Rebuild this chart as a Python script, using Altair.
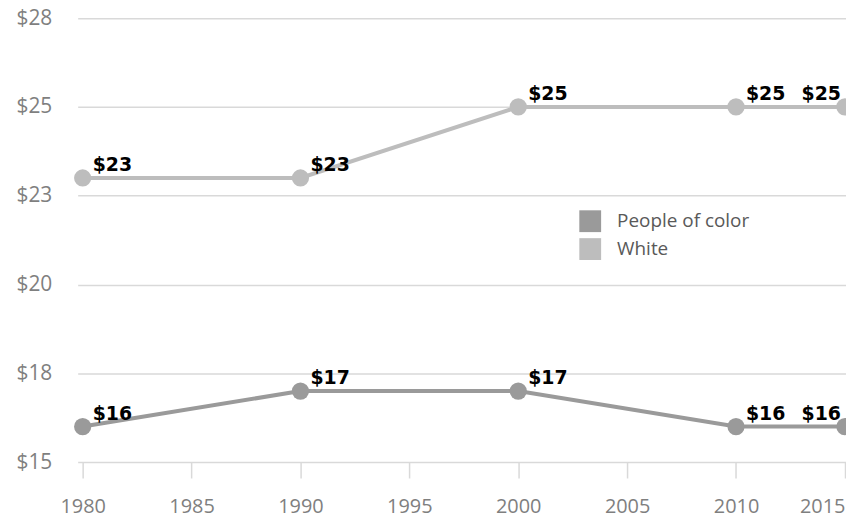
import altair as alt
import pandas as pd

years = [1980, 1990, 2000, 2010, 2015]
people_of_color = [16, 17, 17, 16, 16]
white = [23, 23, 25, 25, 25]
groups = ["People of color", "White"]
colors = ["#9a9a9a", "#bdbdbd"]
y_ticks = [15, 17.5, 20, 22.5, 25, 27.5]
x_ticks = [1980, 1985, 1990, 1995, 2000, 2005, 2010, 2015]

rows = []
for y, v in zip(years, people_of_color):
    rows.append({"year": y, "wage": v, "group": groups[0]})
for y, v in zip(years, white):
    rows.append({"year": y, "wage": v, "group": groups[1]})
df = pd.DataFrame(rows)
last_year = years[-1]

x = alt.X("year:Q",
          scale=alt.Scale(domain=[1979.77, 2015.05], nice=False, zero=False),
          axis=alt.Axis(values=x_ticks, format="d", grid=False, domain=False,
                        tickSize=16, tickColor="#d9d9d9", tickWidth=1.5,
                        labelFontSize=20, labelColor="#7f7f7f", labelPadding=19,
                        labelFlush=3, labelFont="Open Sans", title=None))
y = alt.Y("wage:Q",
          scale=alt.Scale(domain=[15, 27.5], nice=False, zero=False),
          axis=alt.Axis(values=y_ticks, format="$.0f", grid=True, gridColor="#d9d9d9",
                        gridWidth=1.5, domain=False, ticks=False,
                        labelFontSize=21, labelColor="#7f7f7f", labelPadding=26,
                        labelFont="Open Sans", title=None))
color = alt.Color("group:N",
                  scale=alt.Scale(domain=groups, range=colors),
                  legend=alt.Legend(title=None, orient="none", legendX=504, legendY=193,
                                    symbolType="square", symbolSize=480,
                                    symbolStrokeWidth=0, symbolOpacity=1,
                                    labelFontSize=19, labelColor="#595959",
                                    labelFont="Open Sans", rowPadding=6, labelOffset=16))

base = alt.Chart(df)
lines = base.mark_line(strokeWidth=4).encode(x=x, y=y, color=color, detail="group:N")
points = base.mark_circle(size=300, opacity=1).encode(
    x=x, y=y,
    color=alt.Color("group:N", scale=alt.Scale(domain=groups, range=colors), legend=None))
labels_left = base.transform_filter(alt.datum.year < last_year).mark_text(
    align="left", baseline="alphabetic", dx=10, dy=-7,
    fontSize=19, fontWeight="bold", font="DejaVu Sans", color="black"
).encode(x=x, y=y, text=alt.Text("wage:Q", format="$.0f"))
labels_right = base.transform_filter(alt.datum.year == last_year).mark_text(
    align="right", baseline="alphabetic", dx=-4, dy=-7,
    fontSize=19, fontWeight="bold", font="DejaVu Sans", color="black"
).encode(x=x, y=y, text=alt.Text("wage:Q", format="$.0f"))

chart = (lines + points + labels_left + labels_right).properties(
    width=772, height=446,
    autosize=alt.AutoSizeParams(type="none"),
    padding={"left": 70, "top": 9, "right": 0, "bottom": 58},
).configure(background="white").configure_view(stroke=None)

chart.save("out.html", embed_options={"renderer": "svg", "actions": False})
